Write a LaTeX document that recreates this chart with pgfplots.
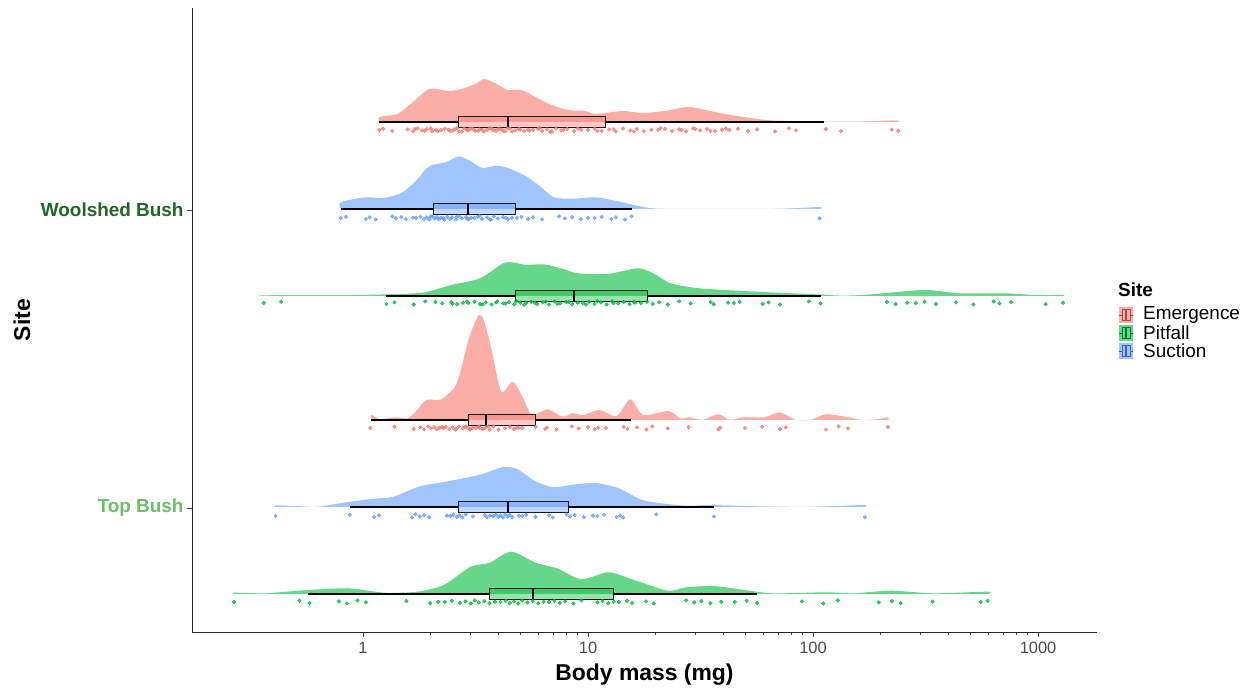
\documentclass[border=0pt]{standalone}
\usepackage{fontspec}
\setmainfont{Liberation Sans}
\usepackage{pgfplots}
\usepackage{pgfplotstable}
\pgfplotsset{compat=1.18}

\definecolor{emerg}{RGB}{248,118,109}
\definecolor{pitf}{RGB}{0,186,56}
\definecolor{suct}{RGB}{97,156,255}
\definecolor{woolgreen}{RGB}{34,102,38}
\definecolor{topgreen}{RGB}{108,190,106}
\definecolor{ticklab}{RGB}{77,77,77}

% ---------- density outlines: body mass (mg), ridge height ----------
\pgfplotstableread[row sep=\\]{x d\\
1.18 0\\ 1.185 5\\ 1.42 8\\ 1.63 18\\ 1.97 33\\ 2.38 31\\ 2.74 33\\ 3.16 38\\ 3.47 43\\ 4.0 37\\
4.40 32\\ 5.06 32\\ 5.84 25\\ 6.72 18\\ 8.12 12\\ 9.8 11\\ 10.8 8\\ 14.3 11\\ 17.3 9\\ 21.9 11\\
27.7 15\\ 31.9 13\\ 40.5 8\\ 61.9 2\\ 86 1\\ 114 0.4\\ 152 0.3\\ 192 1\\ 238 1.7\\ 239 0\\
}\WEdens
\pgfplotstableread[row sep=\\]{x d\\
0.795 0\\ 0.797 6.7\\ 1.02 11.7\\ 1.23 11\\ 1.48 16\\ 1.71 27.7\\ 1.97 42.7\\ 2.32 46.7\\ 2.68 52.7\\
3.01 47.7\\ 3.39 41\\ 3.90 43.3\\ 4.40 41\\ 5.31 32.7\\ 6.12 22.7\\ 7.05 11.7\\ 8.52 10.3\\ 10.8 11.7\\
13.6 7.7\\ 16.5 3.3\\ 19.9 0.5\\ 30 0.1\\ 71 0.3\\ 107 2\\ 107.5 0\\
}\WSdens
\pgfplotstableread[row sep=\\]{x d\\
0.362 0\\ 0.363 0.7\\ 0.90 1\\ 1.29 1.7\\ 1.84 3.3\\ 2.47 11\\ 3.31 17.7\\ 4.2 32.7\\ 4.72 33.3\\
5.31 31\\ 6.34 31.7\\ 7.57 27.7\\ 9.04 22.7\\ 12.1 22\\ 14.5 25.3\\ 16.8 27.7\\ 19.5 22.7\\ 23.3 12.7\\
31.2 7.7\\ 56.4 4.3\\ 102 1.7\\ 137 0.4\\ 183 1.7\\ 312 6\\ 445 2.7\\ 713 2.7\\ 959 1\\ 1289 1\\ 1291 0\\
}\WPdens
\pgfplotstableread[row sep=\\]{x d\\
1.09 0\\ 1.092 5\\ 1.19 0.7\\ 1.39 2.7\\ 1.57 1.7\\ 1.69 6.7\\ 1.91 20\\ 2.23 20.7\\ 2.61 36.7\\
2.94 80\\ 3.25 104\\ 3.44 100\\ 3.73 70\\ 4.11 28.3\\ 4.63 38.3\\ 5.11 23.3\\ 5.63 5\\ 6.59 10.7\\
7.72 3.3\\ 8.52 6.7\\ 9.58 5\\ 11.2 10\\ 13.4 4\\ 15.4 20.7\\ 17.6 5\\ 22.8 9\\ 25.7 1.7\\ 28.3 2.7\\
32.5 0.2\\ 38.0 5.7\\ 42.8 0.2\\ 49.1 2.7\\ 60.9 2.7\\ 71.3 7.7\\ 83.5 0.2\\ 97.7 0.2\\ 114 5.7\\
139 3.3\\ 163 0.2\\ 191 0.7\\ 215 2.7\\ 216 0\\
}\TEdens
\pgfplotstableread[row sep=\\]{x d\\
0.408 0\\ 0.409 1.7\\ 0.525 0.7\\ 0.634 0.3\\ 0.841 4.7\\ 1.12 8.3\\ 1.35 10\\ 1.79 20.7\\ 2.38 25.7\\
3.31 32.3\\ 4.2 40\\ 4.83 38\\ 5.84 25.7\\ 7.05 19.7\\ 8.52 22.3\\ 10.8 24\\ 13.6 19\\ 17.3 7.3\\
21.9 3.3\\ 27.7 1.3\\ 35.1 2\\ 56.3 0.7\\ 90.3 0.2\\ 138 1.3\\ 171 2\\ 171.5 0\\
}\TSdens
\pgfplotstableread[row sep=\\]{x d\\
0.267 0\\ 0.268 1.3\\ 0.371 0.7\\ 0.517 3.3\\ 0.848 5.7\\ 1.25 1.3\\ 1.74 2.3\\ 2.29 9\\ 3.01 27.3\\
3.66 31.3\\ 4.56 42.3\\ 5.84 31.3\\ 7.28 25.7\\ 9.33 14.7\\ 12.3 21.7\\ 15.7 14.7\\ 22.5 3.3\\
27.3 6.7\\ 35.9 8\\ 47.4 4.7\\ 65.9 0.7\\ 114 1.7\\ 151 0.7\\ 222 3.3\\ 345 0.7\\ 597 2.3\\ 598 0\\
}\TPdens

% ---------- individual specimens: body mass (mg), vertical jitter ----------
\pgfplotstableread[row sep=\\]{x j\\
1.18 0\\ 1.23 1.2\\ 1.35 -1\\ 1.58 0.6\\ 1.67 -1.5\\ 1.75 1.6\\ 1.83 -0.4\\ 1.92 0.9\\ 2.03 -1.2\\ 2.11 0.3\\
2.22 0\\ 2.31 1.2\\ 2.44 -1\\ 2.56 0.6\\ 2.67 -1.5\\ 2.81 1.6\\ 2.93 -0.4\\ 3.08 0.9\\ 3.24 -1.2\\ 3.38 0.3\\
3.56 0\\ 3.74 1.2\\ 3.90 -1\\ 4.10 0.6\\ 4.28 -1.5\\ 4.50 1.6\\ 4.74 -0.4\\ 4.93 0.9\\ 5.20 -1.2\\ 5.41 0.3\\
5.70 0\\ 6.00 1.2\\ 6.25 -1\\ 6.57 0.6\\ 6.92 -1.5\\ 7.21 1.6\\ 7.59 -0.4\\ 8.07 0.9\\ 8.67 -1.2\\ 9.31 0.3\\
10.0 0\\ 10.7 1.2\\ 11.5 -1\\ 12.4 0.6\\ 13.3 -1.5\\ 14.3 1.6\\ 15.4 -0.4\\ 16.5 0.9\\ 17.7 -1.2\\ 19.1 0.3\\
20.5 0\\ 22.0 1.2\\ 23.6 -1\\ 25.4 0.6\\ 27.3 -1.5\\ 29.3 1.6\\ 31.5 -0.4\\ 33.8 0.9\\ 36.7 -1.2\\ 39.4 0.3\\
42.4 0\\ 46.4 1.2\\ 51.4 -1\\ 56.4 0.6\\ 67.8 -1.5\\ 78.2 1.6\\ 84.0 -0.4\\ 114 0.9\\ 133 -1.2\\ 224 0.3\\ 239 -1\\
1.70 1\\ 1.88 -0.8\\ 2.0 1.5\\ 2.15 -1.4\\ 2.4 0.4\\ 2.5 -0.6\\ 2.62 1.8\\ 2.75 -1.8\\ 2.9 0.2\\ 3.0 1.4\\
3.15 -0.9\\ 3.3 0.7\\ 3.45 -1.6\\ 3.65 1.9\\ 3.8 -0.2\\ 4.0 1\\ 4.2 -0.8\\ 4.4 1.5\\ 4.6 -1.4\\ 5.0 0.4\\
5.5 -0.6\\ 6.1 1.8\\ 6.8 -1.8\\ 7.8 0.2\\ 9.0 1.4\\ 11.0 -0.9\\ 13.0 0.7\\ 16.0 -1.6\\ 21.0 1.9\\ 26.0 -0.2\\
30.0 1\\ 35.0 -0.8\\ 41.0 1.5\\
}\WEpts
\pgfplotstableread[row sep=\\]{x j\\
0.796 0\\ 0.84 1.2\\ 1.03 -1\\ 1.07 0.6\\ 1.14 -1.5\\ 1.35 1.6\\ 1.40 -0.4\\ 1.48 0.9\\ 1.55 -1.2\\ 1.67 0.3\\
1.72 0\\ 1.80 1.2\\ 1.87 -1\\ 1.92 0.6\\ 1.97 -1.5\\ 2.03 1.6\\ 2.08 -0.4\\ 2.13 0.9\\ 2.17 -1.2\\ 2.22 0.3\\
2.27 0\\ 2.37 1.2\\ 2.44 -1\\ 2.49 0.6\\ 2.59 -1.5\\ 2.67 1.6\\ 2.75 -0.4\\ 2.87 0.9\\ 2.95 -1.2\\ 3.03 0.3\\
3.13 0\\ 3.24 1.2\\ 3.38 -1\\ 3.56 0.6\\ 3.67 -1.5\\ 3.82 1.6\\ 3.98 -0.4\\ 4.19 0.9\\ 4.41 -1.2\\ 4.59 0.3\\
4.83 0\\ 5.06 1.2\\ 5.41 -1\\ 5.70 0.6\\ 6.25 -1.5\\ 7.44 1.6\\ 7.9 -0.4\\ 8.5 0.9\\ 9.3 -1.2\\ 10.0 0.3\\
10.7 0\\ 11.5 1.2\\ 12.7 -1\\ 13.3 0.6\\ 14.6 -1.5\\ 15.6 1.6\\ 107 -0.4\\
2.0 1.5\\ 2.3 -1.6\\ 2.6 0.8\\ 2.9 -0.7\\ 3.3 1.8\\ 3.7 -1.8\\ 4.3 0.2\\
}\WSpts
\pgfplotstableread[row sep=\\]{x j\\
0.362 0\\ 0.433 1.2\\ 1.27 -1\\ 1.38 0.6\\ 1.68 -1.5\\ 1.89 1.6\\ 2.25 -0.4\\ 2.47 0.9\\ 2.62 -1.2\\ 2.78 0.3\\
2.94 0\\ 3.13 1.2\\ 3.31 -1\\ 3.51 0.6\\ 3.73 -1.5\\ 3.95 1.6\\ 4.2 -0.4\\ 4.45 0.9\\ 4.7 -1.2\\ 5.0 0.3\\
5.3 0\\ 5.6 1.2\\ 5.95 -1\\ 6.3 0.6\\ 6.7 -1.5\\ 7.1 1.6\\ 7.5 -0.4\\ 8.0 0.9\\ 8.5 -1.2\\ 9.0 0.3\\
9.5 0\\ 10.1 1.2\\ 10.7 -1\\ 11.4 0.6\\ 12.1 -1.5\\ 12.8 1.6\\ 13.6 -0.4\\ 14.4 0.9\\ 15.3 -1.2\\ 16.2 0.3\\
17.2 0\\ 18.3 1.2\\ 19.4 -1\\ 20.7 0.6\\ 22.6 -1.5\\ 25.4 1.6\\ 28.6 -0.4\\ 35.1 0.9\\ 36.2 -1.2\\ 41.9 0.3\\
44.5 0\\ 47.2 1.2\\ 59.8 -1\\ 63.4 0.6\\ 71.3 -1.5\\ 95.9 1.6\\ 108 -0.4\\ 213 0.9\\ 233 -1.2\\ 262 0.3\\
286 0\\ 313 1.2\\ 352 -1\\ 432 0.6\\ 516 -1.5\\ 635 1.6\\ 674 -0.4\\ 759 0.9\\ 1081 -1.2\\ 1291 0.3\\
2.1 1\\ 2.5 -0.8\\ 2.9 1.5\\ 3.4 -1.4\\ 3.9 0.4\\ 4.3 -0.6\\ 4.8 1.8\\ 5.2 -1.8\\ 5.8 0.2\\ 6.5 1.4\\
7.3 -0.9\\ 8.2 0.7\\ 9.8 -1.6\\ 11.0 1.9\\ 13.0 -0.2\\ 16.0 1\\
}\WPpts
\pgfplotstableread[row sep=\\]{x j\\
1.08 0\\ 1.38 1.2\\ 1.68 -1\\ 1.80 0.6\\ 1.87 -1.5\\ 1.95 1.6\\ 2.0 -0.4\\ 2.07 0.9\\ 2.13 -1.2\\ 2.19 0.3\\
2.28 0\\ 2.33 1.2\\ 2.42 -1\\ 2.50 0.6\\ 2.57 -1.5\\ 2.67 1.6\\ 2.78 -0.4\\ 2.89 0.9\\ 2.97 -1.2\\ 3.07 0.3\\
3.17 0\\ 3.26 1.2\\ 3.39 -1\\ 3.52 0.6\\ 3.66 -1.5\\ 3.80 1.6\\ 4.28 -0.4\\ 4.50 0.9\\ 4.68 -1.2\\ 4.91 0.3\\
5.10 0\\ 5.85 1.2\\ 6.45 -1\\ 6.57 0.6\\ 7.24 -1.5\\ 8.48 1.6\\ 9.09 -0.4\\ 10.0 0.9\\ 10.7 -1.2\\ 11.1 0.3\\
12.0 0\\ 14.4 1.2\\ 15.0 -1\\ 16.5 0.6\\ 18.2 -1.5\\ 19.3 1.6\\ 22.6 -0.4\\ 28.0 0.9\\ 38.0 -1.2\\ 38.7 0.3\\
49.8 0\\ 59.4 1.2\\ 71.3 -1\\ 75.6 0.6\\ 114 -1.5\\ 130 1.6\\ 143 -0.4\\ 215 0.9\\
2.25 1\\ 2.6 -0.8\\ 2.85 1.5\\ 3.0 -1.4\\ 3.3 0.4\\ 3.45 -0.6\\ 3.6 1.8\\ 4.0 -1.8\\ 4.8 0.2\\
}\TEpts
\pgfplotstableread[row sep=\\]{x j\\
0.409 0\\ 0.874 1.2\\ 1.12 -1\\ 1.18 0.6\\ 1.65 -1.5\\ 1.71 1.6\\ 1.79 -0.4\\ 1.87 0.9\\ 1.97 -1.2\\ 2.36 0.3\\
2.44 0\\ 2.52 1.2\\ 2.61 -1\\ 2.68 0.6\\ 2.76 -1.5\\ 2.86 1.6\\ 3.08 -0.4\\ 3.47 0.9\\ 3.55 -1.2\\ 3.67 0.3\\
3.78 0\\ 3.90 1.2\\ 4.0 -1\\ 4.09 0.6\\ 4.19 -1.5\\ 4.28 1.6\\ 4.40 -0.4\\ 4.49 0.9\\ 4.60 -1.2\\ 4.94 0.3\\
5.11 0\\ 5.31 1.2\\ 5.84 -1\\ 6.72 0.6\\ 6.98 -1.5\\ 8.04 1.6\\ 8.32 -0.4\\ 8.72 0.9\\ 9.58 -1.2\\ 10.5 0.3\\
11.0 0\\ 11.8 1.2\\ 13.4 -1\\ 13.9 0.6\\ 14.3 -1.5\\ 20.1 1.6\\ 36.3 -0.4\\ 170 -1.2\\
}\TSpts
\pgfplotstableread[row sep=\\]{x j\\
0.267 0\\ 0.522 1.2\\ 0.578 -1\\ 0.781 0.6\\ 0.848 -1.5\\ 0.945 1.6\\ 1.03 -0.4\\ 1.56 0.9\\ 1.99 -1.2\\ 2.16 0.3\\
2.31 0\\ 2.48 1.2\\ 2.70 -1\\ 2.85 0.6\\ 3.01 -1.5\\ 3.14 1.6\\ 3.27 -0.4\\ 3.46 0.9\\ 3.65 -1.2\\ 3.86 0.3\\
4.08 0\\ 4.31 1.2\\ 4.49 -1\\ 4.69 0.6\\ 4.90 -1.5\\ 5.09 1.6\\ 5.38 -0.4\\ 5.68 0.9\\ 6.01 -1.2\\ 6.35 0.3\\
6.71 0\\ 7.09 1.2\\ 7.49 -1\\ 7.92 0.6\\ 8.61 -1.5\\ 9.35 1.6\\ 11.0 -0.4\\ 11.6 0.9\\ 12.3 -1.2\\ 13.0 0.3\\
13.7 0\\ 14.9 1.2\\ 15.7 -1\\ 18.1 0.6\\ 19.6 -1.5\\ 27.3 1.6\\ 29.7 -0.4\\ 31.9 0.9\\ 35.0 -1.2\\ 39.1 0.3\\
44.9 0\\ 50.7 1.2\\ 56.5 -1\\ 89.3 0.6\\ 111 -1.5\\ 129 1.6\\ 196 -0.4\\ 224 0.9\\ 245 -1.2\\ 340 0.3\\
556 0\\ 597 1.2\\
}\TPpts

% legend key: filled square with a small horizontal box glyph
\newcommand{\legkey}[2]{%
  \fill[#1, opacity=0.6] (927bp,#2bp-8bp) rectangle (941bp,#2bp+8bp);
  \draw[#1!65!black, line width=0.8bp] (930bp,#2bp-5.5bp) rectangle (938bp,#2bp+5.5bp);
  \draw[#1!65!black, line width=0.8bp] (927bp,#2bp) -- (930bp,#2bp) (938bp,#2bp) -- (941bp,#2bp);
  \draw[#1!65!black, line width=1.1bp] (934bp,#2bp-5.5bp) -- (934bp,#2bp+5.5bp);
}

\pgfplotsset{
  specimens/.style={only marks, mark=*, mark size=1.8bp, color=#1,
    mark options={draw=none, fill=#1, fill opacity=0.75}},
  ridge/.style={draw=none, fill=#1, fill opacity=0.6, smooth, tension=0.45},
  whisker/.style={black, line width=1.2bp},
  boxbody/.style={draw=black!90, line width=1bp, fill=#1, fill opacity=0.4},
  boxmedian/.style={black, line width=2bp},
}

\begin{document}
\begin{tikzpicture}
\useasboundingbox (-192bp,-58bp) rectangle (1060bp,632bp);
\begin{axis}[
  scale only axis,
  width=905bp, height=624bp,
  xmode=log,
  xmin=0.1738, xmax=1828,
  ymin=0, ymax=624,
  axis x line*=bottom,
  axis y line*=left,
  axis line style={black!85, line width=0.9bp},
  tick style={black!75, line width=0.8bp},
  tick align=outside,
  major tick length=5bp,
  minor tick num=0,
  xtick={1,10,100,1000},
  xticklabels={1,10,100,1000},
  log ticks with fixed point,
  /pgf/number format/assume math mode=true,
  xticklabel style={font=\fontsize{16.5}{18}\selectfont, text=ticklab, yshift=-2bp},
  ytick={124,422},
  yticklabels={\textcolor{topgreen}{Top Bush},\textcolor{woolgreen}{Woolshed Bush}},
  yticklabel style={font=\bfseries\fontsize{19}{21}\selectfont},
  xlabel={\bfseries Body mass (mg)},
  ylabel={\bfseries Site},
  label style={font=\fontsize{23}{26}\selectfont},
  xlabel style={at={(axis description cs:0.5,-0.069)}, anchor=center},
  ylabel style={at={(axis description cs:-0.188,0.5)}, anchor=center},
]

% ---- ridges (half densities) ----
\addplot[ridge=emerg] table[x=x, y expr=510+\thisrow{d}] {\WEdens};
\addplot[ridge=suct]  table[x=x, y expr=423+\thisrow{d}] {\WSdens};
\addplot[ridge=pitf]  table[x=x, y expr=336+\thisrow{d}] {\WPdens};
\addplot[ridge=emerg] table[x=x, y expr=212+\thisrow{d}] {\TEdens};
\addplot[ridge=suct]  table[x=x, y expr=125+\thisrow{d}] {\TSdens};
\addplot[ridge=pitf]  table[x=x, y expr=38+\thisrow{d}]  {\TPdens};

% ---- boxplots: whiskers, box, median ----
% Woolshed Bush / Emergence
\addplot[whisker] coordinates {(1.18,510) (2.65,510)};
\addplot[whisker] coordinates {(12.0,510) (112,510)};
\addplot[boxbody=emerg] coordinates {(2.65,504.5) (12.0,504.5) (12.0,515.5) (2.65,515.5)} --cycle;
\addplot[boxmedian] coordinates {(4.40,504.5) (4.40,515.5)};
% Woolshed Bush / Suction
\addplot[whisker] coordinates {(0.80,423) (2.06,423)};
\addplot[whisker] coordinates {(4.76,423) (15.7,423)};
\addplot[boxbody=suct] coordinates {(2.06,417.5) (4.76,417.5) (4.76,428.5) (2.06,428.5)} --cycle;
\addplot[boxmedian] coordinates {(2.94,417.5) (2.94,428.5)};
% Woolshed Bush / Pitfall
\addplot[whisker] coordinates {(1.27,336) (4.78,336)};
\addplot[whisker] coordinates {(18.4,336) (109,336)};
\addplot[boxbody=pitf] coordinates {(4.78,330.5) (18.4,330.5) (18.4,341.5) (4.78,341.5)} --cycle;
\addplot[boxmedian] coordinates {(8.67,330.5) (8.67,341.5)};
% Top Bush / Emergence
\addplot[whisker] coordinates {(1.09,212) (2.94,212)};
\addplot[whisker] coordinates {(5.86,212) (15.6,212)};
\addplot[boxbody=emerg] coordinates {(2.94,206.5) (5.86,206.5) (5.86,217.5) (2.94,217.5)} --cycle;
\addplot[boxmedian] coordinates {(3.51,206.5) (3.51,217.5)};
% Top Bush / Suction
\addplot[whisker] coordinates {(0.874,125) (2.65,125)};
\addplot[whisker] coordinates {(8.20,125) (36.3,125)};
\addplot[boxbody=suct] coordinates {(2.65,119.5) (8.20,119.5) (8.20,130.5) (2.65,130.5)} --cycle;
\addplot[boxmedian] coordinates {(4.40,119.5) (4.40,130.5)};
% Top Bush / Pitfall
\addplot[whisker] coordinates {(0.571,38) (3.65,38)};
\addplot[whisker] coordinates {(13.0,38) (56.6,38)};
\addplot[boxbody=pitf] coordinates {(3.65,32.5) (13.0,32.5) (13.0,43.5) (3.65,43.5)} --cycle;
\addplot[boxmedian] coordinates {(5.68,32.5) (5.68,43.5)};

% ---- raw specimens ----
\addplot[specimens=emerg] table[x=x, y expr=502+\thisrow{j}] {\WEpts};
\addplot[specimens=suct]  table[x=x, y expr=414+\thisrow{j}] {\WSpts};
\addplot[specimens=pitf]  table[x=x, y expr=329+\thisrow{j}] {\WPpts};
\addplot[specimens=emerg] table[x=x, y expr=204+\thisrow{j}] {\TEpts};
\addplot[specimens=suct]  table[x=x, y expr=116+\thisrow{j}] {\TSpts};
\addplot[specimens=pitf]  table[x=x, y expr=30+\thisrow{j}]  {\TPpts};
\end{axis}

% ---- legend ----
\node[anchor=west, inner sep=0pt, font=\bfseries\fontsize{19}{21}\selectfont] at (926bp,342bp) {Site};
\legkey{emerg}{317}
\legkey{pitf}{299}
\legkey{suct}{281}
\node[anchor=west, inner sep=0pt, font=\fontsize{19}{21}\selectfont] at (951bp,317bp) {Emergence};
\node[anchor=west, inner sep=0pt, font=\fontsize{19}{21}\selectfont] at (951bp,299bp) {Pitfall};
\node[anchor=west, inner sep=0pt, font=\fontsize{19}{21}\selectfont] at (951bp,281bp) {Suction};
\end{tikzpicture}
\end{document}
